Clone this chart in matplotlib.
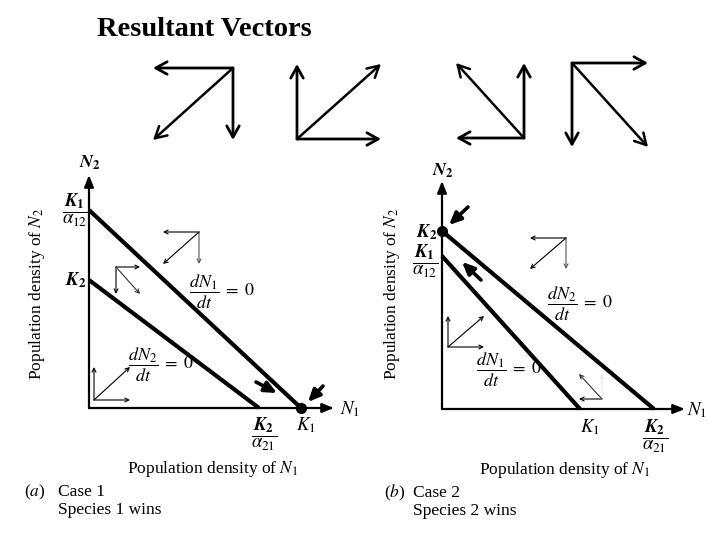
import matplotlib
matplotlib.use('Agg')
import matplotlib.pyplot as plt

plt.rcParams['font.family'] = ['Liberation Serif', 'DejaVu Serif']
plt.rcParams['mathtext.fontset'] = 'stix'

W, H = 720, 540

# ---------------- data ----------------
# Isocline intercepts (same units on both axes)
case1_K1 = 212
case1_K1_over_a12 = 198
case1_K2 = 128
case1_K2_over_a21 = 170

case2_K1 = 138
case2_K1_over_a12 = 153
case2_K2 = 178
case2_K2_over_a21 = 212

# Resultant-vector legend glyphs: (dN1, dN2) components
glyph_dN1 = [-80, 84, -68, 76]
glyph_dN2 = [-72, 75, 75, -84]

# Small component/resultant vectors inside panels: start (N1, N2) and components
case1_vec_N1 = [110, 27, 5]
case1_vec_N2 = [176, 141, 8]
case1_vec_dN1 = [-36, 24, 36]
case1_vec_dN2 = [-32, -27, 33]

case2_vec_N1 = [124, 6, 160]
case2_vec_N2 = [171, 62, 10]
case2_vec_dN1 = [-36, 36, -23]
case2_vec_dN2 = [-31, 31, 25]

# Bold trajectory arrows: tail (N1, N2) -> head (N1, N2)
case1_traj = [((167, 26), (188, 15)), ((234, 22), (219, 6))]
case2_traj = [((39, 129), (20, 147)), ((26, 202), (7, 184))]

fig = plt.figure(figsize=(W / 100, H / 100), dpi=100)
fig.patch.set_facecolor('white')


def panel(ox, oy, w, h):
    ax = fig.add_axes([ox / W, (H - oy) / H, w / W, h / H])
    ax.set_xlim(0, w)
    ax.set_ylim(0, h)
    ax.axis('off')
    return ax


def arrow(ax, x0, y0, x1, y1, style='->', lw=1.0, ms=10, color='black', ls='-'):
    ax.annotate('', xy=(x1, y1), xytext=(x0, y0),
                arrowprops=dict(arrowstyle=style, lw=lw, color=color,
                                shrinkA=0, shrinkB=0, mutation_scale=ms,
                                linestyle=ls),
                annotation_clip=False)


def draw_panel(ax, K1, K1a, K2, K2a, xend, yend, vN1, vN2, vd1, vd2, traj, dot,
               vcolors, dcolors):
    # axes
    arrow(ax, 0, 0, xend, 0, style='-|>,head_length=0.5,head_width=0.2', lw=1.6, ms=14)
    arrow(ax, 0, 0, 0, yend, style='-|>,head_length=0.5,head_width=0.2', lw=1.6, ms=14)
    # isoclines
    ax.plot([0, K1], [K1a, 0], color='black', lw=3.0, solid_capstyle='butt', clip_on=False)
    ax.plot([0, K2a], [K2, 0], color='black', lw=3.0, solid_capstyle='butt', clip_on=False)
    # component vectors
    for x0, y0, a, b, vc, dc in zip(vN1, vN2, vd1, vd2, vcolors, dcolors):
        arrow(ax, x0, y0, x0 + a, y0, lw=0.8, ms=7)
        arrow(ax, x0, y0, x0, y0 + b, lw=0.8, ms=7, color=vc)
        arrow(ax, x0, y0, x0 + a, y0 + b, lw=0.8, ms=7, color=dc)
    # trajectories
    for (t, h) in traj:
        arrow(ax, t[0], t[1], h[0], h[1], style='-|>,head_length=0.55,head_width=0.25',
              lw=2.6, ms=13)
    ax.plot([dot[0]], [dot[1]], 'o', color='black', ms=7, clip_on=False)


axA = panel(89, 408, 260, 245)
draw_panel(axA, case1_K1, case1_K1_over_a12, case1_K2, case1_K2_over_a21, 245, 233,
           case1_vec_N1, case1_vec_N2, case1_vec_dN1, case1_vec_dN2, case1_traj,
           (case1_K1, 0), ['#555555', 'black', 'black'], ['black', '#333333', 'black'])

axB = panel(442, 409, 260, 245)
draw_panel(axB, case2_K1, case2_K1_over_a12, case2_K2, case2_K2_over_a21, 243, 228,
           case2_vec_N1, case2_vec_N2, case2_vec_dN1, case2_vec_dN2, case2_traj,
           (0, case2_K2), ['#555555', 'black', '#e6e6e6'], ['black', 'black', '#333333'])

# overlay in pixel coordinates for glyphs and text
ov = fig.add_axes([0, 0, 1, 1], zorder=5)
ov.set_xlim(0, W)
ov.set_ylim(H, 0)
ov.axis('off')
ov.patch.set_alpha(0)

ov.text(97, 30, 'Resultant Vectors', fontsize=20.5, fontweight='bold',
        ha='left', va='center', family=['Liberation Serif'])

glyph_origin = [(233, 68), (297, 139), (524, 138), (572, 63)]
gstyle = '->,head_length=0.45,head_width=0.25'
for (ox, oy), a, b in zip(glyph_origin, glyph_dN1, glyph_dN2):
    arrow(ov, ox, oy, ox + a, oy, style=gstyle, lw=2.0, ms=18)
    arrow(ov, ox, oy, ox, oy - b, style=gstyle, lw=2.0, ms=18)
    arrow(ov, ox, oy, ox + a, oy - b, style=gstyle, lw=1.8, ms=18)

fs = 12.5
ffs = 13.5
KN2 = r'$\mathbfit{N}_\mathbf{2}$'
# Panel (a) texts
ov.text(90, 163, KN2, fontsize=13, ha='center', va='center')
ov.text(75, 210, r'$\dfrac{\mathbfit{K}_\mathbf{1}}{\alpha_{12}}$', fontsize=ffs, ha='center', va='center')
ov.text(76, 280, r'$\mathbfit{K}_\mathbf{2}$', fontsize=ffs, ha='center', va='center')
ov.text(189, 292, r'$\dfrac{dN_1}{dt}\;=\;0$', fontsize=13, ha='left', va='center')
ov.text(128, 365, r'$\dfrac{dN_2}{dt}\;=\;0$', fontsize=13, ha='left', va='center')
ov.text(340, 409, r'$N_1$', fontsize=13.5, ha='left', va='center')
ov.text(264, 434, r'$\dfrac{\mathbfit{K}_\mathbf{2}}{\alpha_{21}}$', fontsize=ffs, ha='center', va='center')
ov.text(306, 425, r'$K_1$', fontsize=13.5, ha='center', va='center')
ov.text(213, 469, r'Population density of $N_1$', fontsize=fs, ha='center', va='center')
ov.text(37, 294, r'Population density of $N_2$', fontsize=fs, ha='center', va='center',
        rotation=90)
ov.text(24, 492, r'($a$)', fontsize=fs, ha='left', va='center')
ov.text(58, 492, 'Case 1', fontsize=fs, ha='left', va='center')
ov.text(58, 510, 'Species 1 wins', fontsize=fs, ha='left', va='center')

# Panel (b) texts
ov.text(443, 171, KN2, fontsize=13, ha='center', va='center')
ov.text(427, 232, r'$\mathbfit{K}_\mathbf{2}$', fontsize=ffs, ha='center', va='center')
ov.text(425, 261, r'$\dfrac{\mathbfit{K}_\mathbf{1}}{\alpha_{12}}$', fontsize=ffs, ha='center', va='center')
ov.text(547, 304, r'$\dfrac{dN_2}{dt}\;=\;0$', fontsize=13, ha='left', va='center')
ov.text(476, 370, r'$\dfrac{dN_1}{dt}\;=\;0$', fontsize=13, ha='left', va='center')
ov.text(687, 410, r'$N_1$', fontsize=13.5, ha='left', va='center')
ov.text(590, 427, r'$K_1$', fontsize=13.5, ha='center', va='center')
ov.text(655, 436, r'$\dfrac{\mathbfit{K}_\mathbf{2}}{\alpha_{21}}$', fontsize=ffs, ha='center', va='center')
ov.text(565, 470, r'Population density of $N_1$', fontsize=fs, ha='center', va='center')
ov.text(392, 294, r'Population density of $N_2$', fontsize=fs, ha='center', va='center',
        rotation=90)
ov.text(384, 493, r'($b$)', fontsize=fs, ha='left', va='center')
ov.text(413, 493, 'Case 2', fontsize=fs, ha='left', va='center')
ov.text(413, 511, 'Species 2 wins', fontsize=fs, ha='left', va='center')

fig.savefig('out.png', dpi=100, facecolor='white')
